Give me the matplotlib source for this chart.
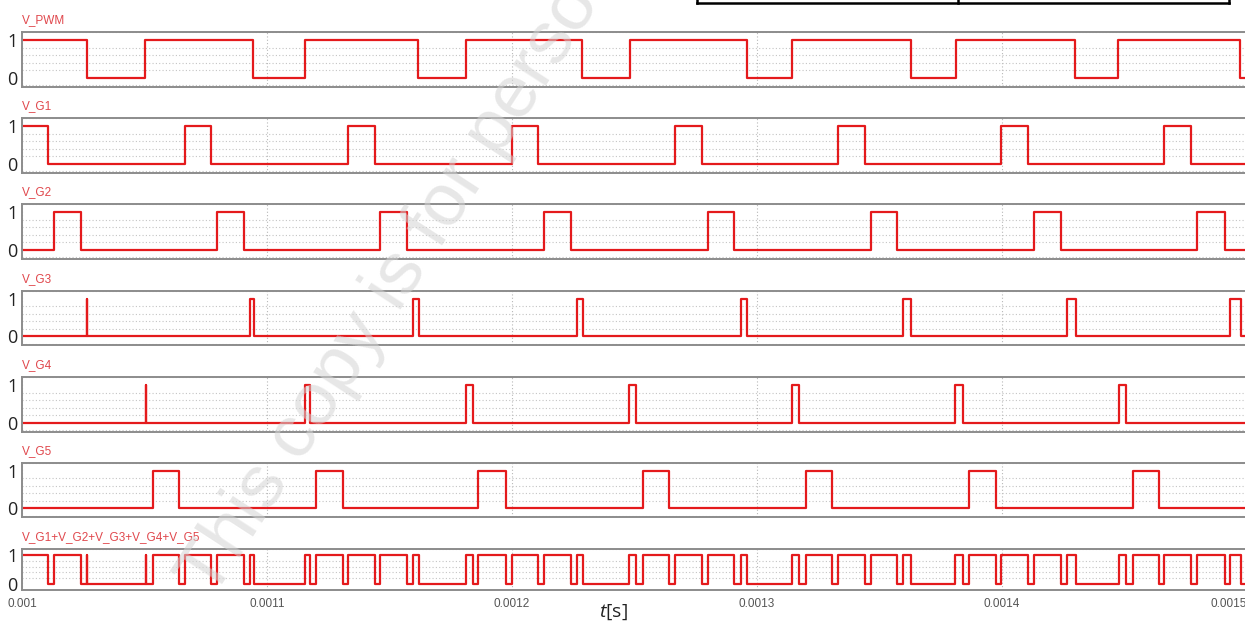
import numpy as np
import matplotlib
matplotlib.use('Agg')
import matplotlib.pyplot as plt
from matplotlib.lines import Line2D

plt.rcParams['mathtext.fontset'] = 'custom'
plt.rcParams['mathtext.it'] = 'Open Sans:italic'
plt.rcParams['mathtext.rm'] = 'Open Sans'

# switching edges in microseconds
t_start = 1000.0
t_end = 1500.0

pwm_init = 1
pwm_edges = [1026.5, 1050.2, 1094.3, 1115.5, 1161.6, 1181.2, 1228.6, 1248.2,
             1295.9, 1314.3, 1362.9, 1381.2, 1429.8, 1447.3, 1497.1]

g1_init = 1
g1_edges = [1010.8, 1066.4, 1077.3, 1133.2, 1144.0, 1199.9, 1210.7, 1266.4,
            1277.7, 1332.9, 1344.1, 1399.4, 1410.6, 1466.2, 1477.3]

g2_init = 0
g2_edges = [1012.9, 1024.2, 1079.7, 1090.7, 1146.2, 1157.2, 1213.2, 1224.0,
            1279.8, 1290.8, 1346.4, 1357.3, 1412.9, 1424.1, 1479.5, 1490.9]

g3_init = 0
g3_edges = [1026.5, 1026.7, 1093.1, 1094.7, 1159.6, 1162.0, 1226.5, 1229.0,
            1293.5, 1295.9, 1359.6, 1362.9, 1426.5, 1430.2, 1493.1, 1497.6]

g4_init = 0
g4_edges = [1050.6, 1050.8, 1115.5, 1117.6, 1181.2, 1184.1, 1247.8, 1250.6,
            1314.3, 1317.1, 1380.8, 1384.1, 1447.8, 1450.6]

g5_init = 0
g5_edges = [1053.5, 1064.1, 1120.0, 1131.0, 1186.3, 1197.6, 1253.3, 1264.1,
            1319.9, 1330.7, 1386.7, 1397.4, 1453.4, 1464.2]

names = ['V_PWM', 'V_G1', 'V_G2', 'V_G3', 'V_G4', 'V_G5']
inits = [pwm_init, g1_init, g2_init, g3_init, g4_init, g5_init]
edges = [pwm_edges, g1_edges, g2_edges, g3_edges, g4_edges, g5_edges]

xticks = [0.001, 0.0011, 0.0012, 0.0013, 0.0014, 0.0015]
xtick_labels = ['0.001', '0.0011', '0.0012', '0.0013', '0.0014', '0.0015']


def step_trace(init, e):
    times = [t_start] + list(e) + [t_end]
    levels = [(init + i) % 2 for i in range(len(e) + 1)]
    levels.append(levels[-1])
    return np.array(times) * 1e-6, np.array(levels)


def level_at(init, e, t):
    n = np.searchsorted(e, t, side='right')
    return (init + n) % 2


W, H = 1245, 623
fig = plt.figure(figsize=(W / 100, H / 100), dpi=100)

red = '#e41a1c'
frame = '#8c8c8c'
left = 22 / W
width = 1225 / W
# panel top/bottom in pixels
boxes = [(32, 87), (118, 173), (204, 259), (291, 345), (377, 432), (463, 517), (549, 590)]


def make_ax(top, bot, ylim):
    ax = fig.add_axes([left, 1 - bot / H, width, (bot - top) / H])
    ax.set_xlim(0.001, 0.0015)
    ax.set_ylim(*ylim)
    ax.set_xticks(xticks)
    ax.set_yticks([0, 1])
    ax.set_yticklabels(['0', '1'], fontsize=13, fontfamily='Open Sans', color='#222222')
    ax.set_yticks(np.arange(-0.2, 1.21, 0.2), minor=True)
    ax.tick_params(axis='both', which='both', length=0)
    ax.tick_params(axis='y', pad=3)
    ax.grid(axis='x', which='major', linestyle=(0, (1, 2)), color='#b8b8b8', lw=0.8)
    ax.grid(axis='y', which='minor', linestyle=(0, (1, 2)), color='#c4c4c4', lw=0.8)
    for s in ax.spines.values():
        s.set_color(frame)
        s.set_linewidth(1.4)
    ax.fig_label_y = 1 - (top - 12) / H
    return ax


for i, name in enumerate(names):
    top, bot = boxes[i]
    ax = make_ax(top, bot, (-0.24, 1.21))
    t, v = step_trace(inits[i], edges[i])
    ax.step(t, v, where='post', color=red, lw=1.6)
    ax.set_xticklabels([])
    fig.text(left, ax.fig_label_y, name, color='#e0474c', fontsize=8.5,
             fontfamily='Liberation Sans', va='center', ha='left')

# sum of the gate signals
top, bot = boxes[6]
ax = make_ax(top, bot, (-0.09, 1.12))
all_t = np.unique(np.concatenate([[t_start, t_end]] + [np.array(e) for e in edges[1:]]))
total = np.zeros(len(all_t), dtype=int)
for init, e in zip(inits[1:], edges[1:]):
    total += level_at(init, np.array(e), all_t)
ax.step(all_t * 1e-6, total, where='post', color=red, lw=1.6)
ax.set_xticklabels(xtick_labels, fontsize=8.5, fontfamily='Liberation Sans', color='#555555')
ax.get_xticklabels()[-1].set_horizontalalignment('right')
ax.tick_params(axis='x', pad=6)
fig.text(left, ax.fig_label_y, 'V_G1+V_G2+V_G3+V_G4+V_G5', color='#e0474c', fontsize=8.5,
         fontfamily='Liberation Sans', va='center', ha='left')

fig.text(613 / W, 1 - 612 / H, r'$t$[s]', fontsize=14, fontfamily='Open Sans',
         ha='center', va='center', color='#222222')

# bit of the table frame cut off at the top
for seg in [([697, 1229], [3, 3]), ([697, 697], [0, 3]), ([958, 958], [0, 3]), ([1229, 1229], [0, 3])]:
    fig.add_artist(Line2D(np.array(seg[0]) / W, 1 - np.array(seg[1]) / H,
                          color='black', lw=1.8, transform=fig.transFigure))

# watermark
fig.text(212 / W, 1 - 600 / H, 'This copy is for personal use only', rotation=57,
         rotation_mode='anchor', fontsize=54, color='#d4d4d4', alpha=0.55,
         ha='left', va='baseline', fontfamily='Liberation Sans', zorder=20)

fig.savefig('out.png', dpi=100)
